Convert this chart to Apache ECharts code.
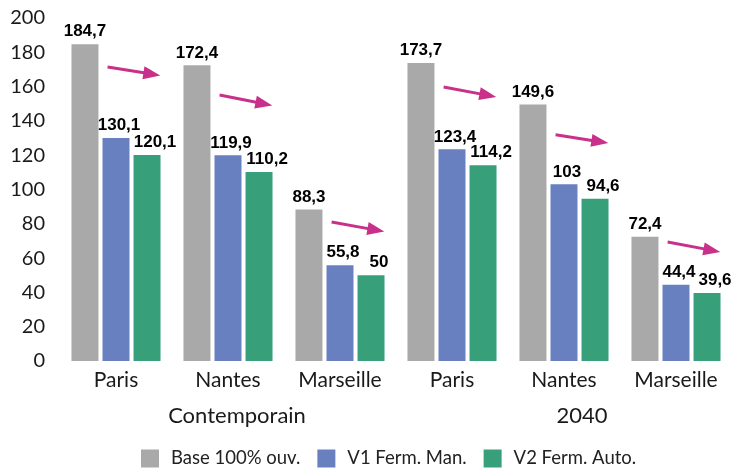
<!DOCTYPE html>
<html>
<head>
<meta charset="utf-8">
<script src="https://cdn.jsdelivr.net/npm/echarts@6/dist/echarts.min.js"></script>
<style>
  html, body { margin: 0; padding: 0; background: #fff; }
  #chart { width: 733px; height: 472px; }
</style>
</head>
<body>
<div id="chart"></div>
<script>
var cities = ['Paris', 'Nantes', 'Marseille', 'Paris', 'Nantes', 'Marseille'];
var periods = ['Contemporain', '2040'];
var seriesNames = ['Base 100% ouv.', 'V1 Ferm. Man.', 'V2 Ferm. Auto.'];
var baseValues = [184.7, 172.4, 88.3, 173.7, 149.6, 72.4];
var v1Values = [130.1, 119.9, 55.8, 123.4, 103, 44.4];
var v2Values = [120.1, 110.2, 50, 114.2, 94.6, 39.6];
// arrows: [category index, value at start, value at tip]
var arrowData = [
  [0, 171.4, 166.5],
  [1, 155.1, 149.0],
  [2, 81.0, 75.5],
  [3, 159.8, 154.0],
  [4, 131.9, 127.1],
  [5, 69.4, 63.6]
];

var colors = ['#a9a9a9', '#6880bf', '#37a07a'];
var labelFont = '"Liberation Sans Narrow", "Arial Narrow", sans-serif';
var textFont = 'Lato, "Noto Sans", sans-serif';

var chartDom = document.getElementById('chart');
var myChart = echarts.init(chartDom, null, { renderer: 'canvas' });

function fmt(p) {
  return String(p.value).replace('.', ',');
}

function barSeries(i, values, dx) {
  return {
    name: seriesNames[i],
    type: 'bar',
    xAxisIndex: 0,
    data: values,
    barGap: '15%',
    barCategoryGap: '20.5%',
    itemStyle: { color: colors[i] },
    label: {
      show: true,
      position: 'top',
      distance: 4,
      offset: [dx, 0],
      formatter: fmt,
      fontFamily: labelFont,
      fontWeight: 'bold',
      fontSize: 17,
      color: '#000'
    }
  };
}

var option = {
  animation: false,
  backgroundColor: '#fff',
  color: colors,
  grid: { left: 60, right: 1, top: 18, bottom: 111 },
  legend: {
    bottom: -1,
    left: 136,
    itemWidth: 18,
    itemHeight: 18,
    itemGap: 17,
    icon: 'rect',
    textStyle: { fontFamily: textFont, fontSize: 18.5, color: '#222', padding: [0, 0, 0, 7] },
    data: seriesNames
  },
  xAxis: [
    {
      type: 'category',
      data: cities,
      axisLine: { show: false },
      axisTick: { show: false },
      axisLabel: { margin: 9, fontFamily: textFont, fontSize: 21, color: '#1a1a1a' }
    },
    {
      type: 'category',
      position: 'bottom',
      offset: 35,
      data: periods,
      axisLine: { show: false },
      axisTick: { show: false },
      axisLabel: {
        margin: 9,
        fontFamily: textFont,
        fontSize: 22,
        color: '#1a1a1a',
        formatter: function (v, i) { return i === 0 ? '{a|' + v + '}' : '{b|' + v + '}'; },
        rich: {
          a: { fontFamily: textFont, fontSize: 22, color: '#1a1a1a', padding: [0, 0, 0, 18] },
          b: { fontFamily: textFont, fontSize: 22, color: '#1a1a1a', padding: [0, 0, 0, 36] }
        }
      }
    }
  ],
  yAxis: {
    type: 'value',
    min: 0,
    max: 200,
    interval: 20,
    axisLine: { show: false },
    axisTick: { show: false },
    splitLine: { show: false },
    axisLabel: { margin: 15, fontFamily: textFont, fontSize: 20, color: '#1a1a1a' }
  },
  series: [
    barSeries(0, baseValues, 0),
    barSeries(1, v1Values, 3),
    barSeries(2, v2Values, 8)
  ]
};

myChart.setOption(option);

// magenta trend arrows placed from data values
function drawArrows() {
  var band = myChart.convertToPixel({ xAxisIndex: 0 }, 1) - myChart.convertToPixel({ xAxisIndex: 0 }, 0);
  var elements = arrowData.map(function (a) {
    var cx = myChart.convertToPixel({ xAxisIndex: 0 }, a[0]);
    var x1 = cx - band * 0.075;
    var x2 = cx + band * 0.395;
    var y1 = myChart.convertToPixel({ yAxisIndex: 0 }, a[1]);
    var y2 = myChart.convertToPixel({ yAxisIndex: 0 }, a[2]);
    var ang = Math.atan2(y2 - y1, x2 - x1);
    var headLen = 17, headW = 6.5;
    var bx = x2 - headLen * Math.cos(ang);
    var by = y2 - headLen * Math.sin(ang);
    var px = -Math.sin(ang) * headW, py = Math.cos(ang) * headW;
    return {
      type: 'group',
      children: [
        {
          type: 'line',
          shape: { x1: x1, y1: y1, x2: bx + 2 * Math.cos(ang), y2: by + 2 * Math.sin(ang) },
          style: { stroke: '#c8308a', lineWidth: 3 }
        },
        {
          type: 'polygon',
          shape: { points: [[x2, y2], [bx + px, by + py], [bx - px, by - py]] },
          style: { fill: '#c8308a' }
        }
      ]
    };
  });
  myChart.setOption({ graphic: elements });
}
drawArrows();

window.addEventListener('resize', myChart.resize);
</script>
</body>
</html>
